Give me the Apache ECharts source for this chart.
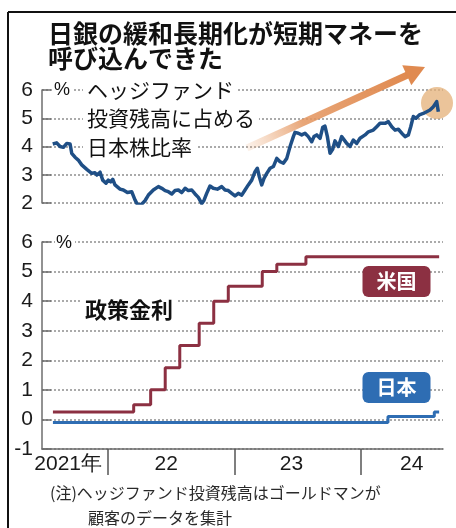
<!DOCTYPE html>
<html>
<head>
<meta charset="utf-8">
<script src="https://cdn.jsdelivr.net/npm/echarts@6/dist/echarts.min.js"></script>
<style>
  html, body { margin: 0; padding: 0; background: #fff; }
  #chart { width: 456px; height: 528px; }
</style>
</head>
<body>
<div id="chart"></div>
<script>
// Hedge-fund share of assets held in Japanese equities (%), by decimal year
const hfYear = [
  2021.563, 2021.594, 2021.621, 2021.647, 2021.674, 2021.700, 2021.713, 2021.739, 2021.765, 2021.792,
  2021.832, 2021.871, 2021.897, 2021.911, 2021.937, 2021.958, 2021.984, 2022.002, 2022.021, 2022.037,
  2022.055, 2022.095, 2022.121, 2022.153, 2022.187, 2022.213, 2022.235, 2022.266, 2022.292, 2022.319,
  2022.358, 2022.398, 2022.425, 2022.451, 2022.477, 2022.504, 2022.530, 2022.556, 2022.583, 2022.609,
  2022.635, 2022.662, 2022.688, 2022.714, 2022.741, 2022.759, 2022.780, 2022.806, 2022.832, 2022.864,
  2022.899, 2022.925, 2022.951, 2022.978, 2023.004, 2023.030, 2023.057, 2023.083, 2023.109, 2023.136,
  2023.162, 2023.180, 2023.196, 2023.215, 2023.233, 2023.255, 2023.281, 2023.307, 2023.334, 2023.360,
  2023.386, 2023.413, 2023.439, 2023.465, 2023.478, 2023.504, 2023.531, 2023.557, 2023.583, 2023.610,
  2023.628, 2023.650, 2023.676, 2023.697, 2023.715, 2023.734, 2023.755, 2023.776, 2023.794, 2023.821,
  2023.847, 2023.860, 2023.887, 2023.913, 2023.939, 2023.966, 2023.992, 2024.032, 2024.058, 2024.097,
  2024.124, 2024.150, 2024.190, 2024.216, 2024.243, 2024.269, 2024.295, 2024.322, 2024.348, 2024.374,
  2024.393, 2024.413, 2024.435, 2024.461, 2024.492, 2024.519, 2024.545, 2024.572, 2024.598, 2024.611
];
const hfShare = [
  4.09, 4.13, 4.00, 3.97, 4.11, 4.09, 3.76, 3.62, 3.52, 3.35,
  3.19, 3.05, 3.07, 2.99, 3.09, 2.81, 2.70, 2.81, 2.75, 2.84,
  2.64, 2.49, 2.46, 2.37, 2.40, 2.11, 1.93, 1.96, 2.08, 2.28,
  2.46, 2.58, 2.52, 2.44, 2.40, 2.32, 2.44, 2.46, 2.37, 2.52,
  2.44, 2.46, 2.32, 2.20, 1.98, 2.10, 2.34, 2.60, 2.52, 2.49,
  2.58, 2.46, 2.44, 2.34, 2.25, 2.34, 2.28, 2.46, 2.64, 2.81,
  3.11, 3.23, 2.93, 2.64, 2.87, 3.05, 3.23, 3.29, 3.58, 3.46,
  3.41, 3.58, 4.00, 4.35, 4.50, 4.47, 4.41, 4.47, 4.35, 4.17,
  4.35, 4.41, 4.29, 4.68, 4.72, 4.35, 3.76, 3.90, 4.20, 4.00,
  4.35, 4.41, 4.11, 4.00, 4.23, 4.11, 4.29, 4.41, 4.52, 4.58,
  4.70, 4.82, 4.82, 4.88, 4.70, 4.58, 4.61, 4.47, 4.35, 4.41,
  4.70, 5.06, 5.00, 5.12, 5.17, 5.23, 5.29, 5.41, 5.59, 5.23
];

// Policy rates (%): each entry is the date a new level takes effect
const usRateDates = ['2021-07-26', '2022-03-16', '2022-05-04', '2022-06-15', '2022-07-27', '2022-09-21',
  '2022-11-02', '2022-12-14', '2023-03-22', '2023-05-03', '2023-07-26', '2024-08-14'];
const usRate = [0.25, 0.50, 1.00, 1.75, 2.50, 3.25, 4.00, 4.50, 5.00, 5.25, 5.50, 5.50];

const jpRateDates = ['2021-07-26', '2024-03-19', '2024-07-31', '2024-08-14'];
const jpRate = [-0.1, 0.1, 0.25, 0.25];

const yearTicks = [2022, 2023, 2024];
const yearLabels = ['2021年', '22', '23', '24'];

// ---- helpers -------------------------------------------------------------
function decimalYear(s) {
  const [y, m, d] = s.split('-').map(Number);
  const start = Date.UTC(y, 0, 1);
  const next = Date.UTC(y + 1, 0, 1);
  return y + (Date.UTC(y, m - 1, d) - start) / (next - start);
}
const zip = (xs, ys) => xs.map((x, i) => [x, ys[i]]);

const X_MIN = 2021.478, X_MAX = 2024.648;
const JP = '"Noto Sans CJK JP", "Noto Sans", sans-serif';
const NUM = '"Liberation Sans Narrow", "Liberation Sans", sans-serif';
const AXIS_GREY = '#6e6e6e';
const GRID_GREY = '#8f8f8f';

// label centre for each year band on the time axis
const yearLabelAt = [2021.685, 2022.46, 2023.45, 2024.40];

function yAxisCommon(gridIndex, min, max) {
  return {
    type: 'value', gridIndex, min, max, interval: 1,
    axisLine: { show: true, lineStyle: { color: AXIS_GREY, width: 1.5 } },
    axisTick: { show: true, inside: true, length: 9, lineStyle: { color: AXIS_GREY, width: 1.5 } },
    axisLabel: { color: '#1a1a1a', fontFamily: NUM, fontSize: 21, margin: 9 },
    splitLine: { show: true, lineStyle: { color: GRID_GREY, width: 1.5, type: [2, 2] } }
  };
}

const chart = echarts.init(document.getElementById('chart'));

function textEl(x, y, text, size, opts) {
  opts = opts || {};
  return {
    type: 'text', x, y, z: opts.z || 10,
    style: Object.assign({
      text, fontFamily: JP, fontSize: size, fontWeight: opts.weight || 'normal',
      fill: opts.fill || '#111',
      align: opts.align || 'left', textAlign: opts.align || 'left',
      verticalAlign: 'middle', textVerticalAlign: 'middle'
    }, opts.style || {})
  };
}

// orange trend arrow geometry
const arrowTail = [247, 148], arrowTip = [425, 67];
const adx = arrowTip[0] - arrowTail[0], ady = arrowTip[1] - arrowTail[1];
const alen = Math.hypot(adx, ady);
const ux = adx / alen, uy = ady / alen;
const headLen = 20, headHalf = 11;
const hb = [arrowTip[0] - ux * headLen, arrowTip[1] - uy * headLen];
const arrowHead = [
  arrowTip,
  [hb[0] - uy * headHalf, hb[1] + ux * headHalf],
  [hb[0] + uy * headHalf, hb[1] - ux * headHalf]
];

const option = {
  animation: false,
  grid: [
    { left: 42, right: 13, top: 90, height: 113 },
    { left: 42, right: 13, top: 242, height: 207 }
  ],
  xAxis: [
    {
      type: 'value', gridIndex: 0, min: X_MIN, max: X_MAX,
      axisLine: { show: false }, axisTick: { show: false },
      axisLabel: { show: false }, splitLine: { show: false }
    },
    {
      type: 'value', gridIndex: 1, min: X_MIN, max: X_MAX,
      axisLine: { show: true, onZero: false, lineStyle: { color: AXIS_GREY, width: 1.5 } },
      axisTick: {
        show: true, inside: false, length: 26, customValues: yearTicks,
        lineStyle: { color: '#555', width: 1.5 }
      },
      axisLabel: {
        show: true, customValues: yearLabelAt, margin: 5,
        color: '#1a1a1a', fontFamily: NUM, fontSize: 21,
        formatter: (v) => yearLabels[Math.floor(v + 1e-6) - 2021]
      },
      splitLine: { show: false }
    }
  ],
  yAxis: [yAxisCommon(0, 2, 6), yAxisCommon(1, -1, 6)],
  series: [
    {
      name: 'ヘッジファンド投資残高に占める日本株比率',
      type: 'line', xAxisIndex: 0, yAxisIndex: 0, z: 5,
      data: zip(hfYear, hfShare),
      showSymbol: false,
      lineStyle: { color: '#1f4f86', width: 3.5, join: 'round' }
    },
    {
      name: '米国', type: 'line', xAxisIndex: 1, yAxisIndex: 1, z: 5,
      step: 'end', showSymbol: false,
      data: zip(usRateDates.map(decimalYear), usRate),
      lineStyle: { color: '#8c3042', width: 3 }
    },
    {
      name: '日本', type: 'line', xAxisIndex: 1, yAxisIndex: 1, z: 6,
      step: 'end', showSymbol: false,
      data: zip(jpRateDates.map(decimalYear), jpRate),
      lineStyle: { color: '#2e6db3', width: 3 }
    }
  ],
  graphic: [
    // frame
    { type: 'line', z: 20, shape: { x1: 8, y1: 12, x2: 456, y2: 12 }, style: { stroke: '#111', lineWidth: 2 } },
    { type: 'line', z: 20, shape: { x1: 8, y1: 12, x2: 8, y2: 528 }, style: { stroke: '#111', lineWidth: 2 } },

    // headline
    textEl(48, 33, '日銀の緩和長期化が短期マネーを', 25, { weight: 'bold' }),
    textEl(48, 58, '呼び込んできた', 25, { weight: 'bold' }),

    // highlight behind the latest reading
    { type: 'circle', z: 1, shape: { cx: 437, cy: 103, r: 16 }, style: { fill: 'rgba(228,176,120,0.75)' } },

    // trend arrow
    {
      type: 'line', z: 7,
      shape: { x1: arrowTail[0], y1: arrowTail[1], x2: hb[0] + ux * 2, y2: hb[1] + uy * 2 },
      style: {
        lineWidth: 7, lineCap: 'butt',
        stroke: new echarts.graphic.LinearGradient(arrowTail[0], arrowTail[1], hb[0], hb[1], [
          { offset: 0, color: 'rgba(236,170,120,0.15)' },
          { offset: 0.35, color: 'rgba(228,150,96,0.85)' },
          { offset: 1, color: '#e08a50' }
        ], true)
      }
    },
    { type: 'polygon', z: 7, shape: { points: arrowHead }, style: { fill: '#e08a50' } },

    // upper panel captions
    textEl(53, 90, '%', 18, { style: { fontFamily: '"Liberation Sans", sans-serif', backgroundColor: '#fff', padding: [0, 3, 0, 1] } }),
    textEl(83, 90, 'ヘッジファンド', 21, { style: { backgroundColor: '#fff', padding: [0, 4] } }),
    textEl(83, 118, '投資残高に占める', 21, { style: { backgroundColor: '#fff', padding: [0, 4] } }),
    textEl(83, 147, '日本株比率', 21, { style: { backgroundColor: '#fff', padding: [0, 4] } }),

    // lower panel captions
    textEl(55, 243, '%', 18, { style: { fontFamily: '"Liberation Sans", sans-serif', backgroundColor: '#fff', padding: [0, 3, 0, 1] } }),
    textEl(81, 310, '政策金利', 22, { weight: 'bold', style: { backgroundColor: '#fff', padding: [0, 4] } }),

    // series tags
    textEl(396.5, 281.5, '米国', 20, {
      weight: 'bold', fill: '#fff', align: 'center',
      style: { backgroundColor: '#8c3042', padding: [6, 14, 5, 14], borderRadius: 6 }
    }),
    textEl(396.5, 387.5, '日本', 20, {
      weight: 'bold', fill: '#fff', align: 'center',
      style: { backgroundColor: '#2e6db3', padding: [6, 14, 5, 14], borderRadius: 6 }
    }),

    // source note
    textEl(50, 493, '(注)ヘッジファンド投資残高はゴールドマンが', 16, { fill: '#2a2a2a' }),
    textEl(88, 518, '顧客のデータを集計', 16, { fill: '#2a2a2a' })
  ]
};

chart.setOption(option);
</script>
</body>
</html>
